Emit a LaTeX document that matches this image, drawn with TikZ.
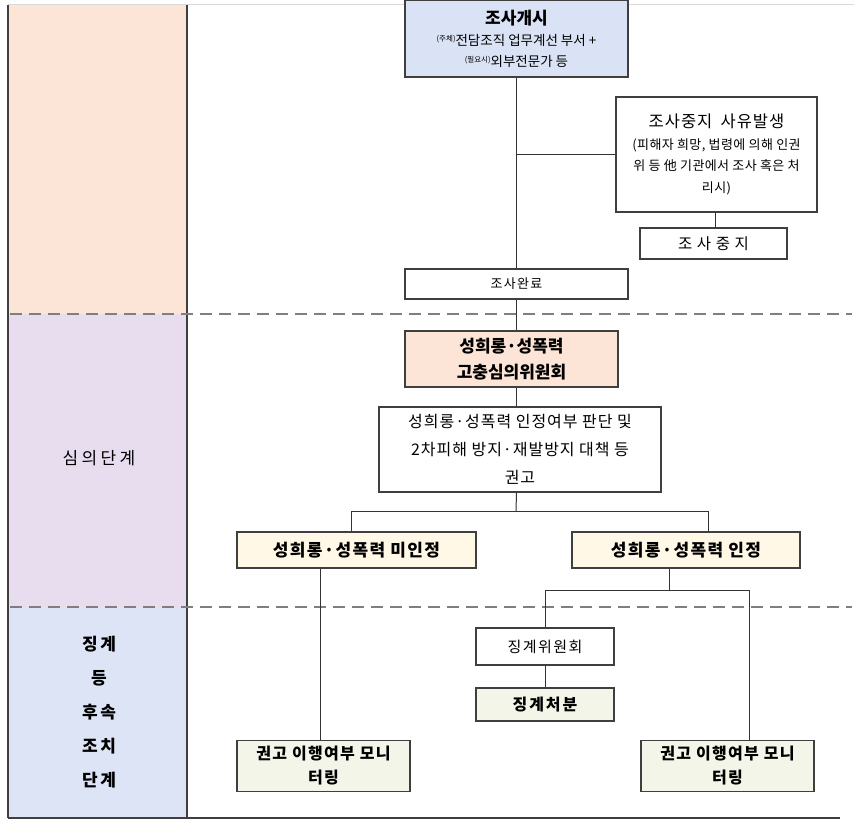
\documentclass[tikz,border=0pt]{standalone}
\usepackage{fontspec}
\setmainfont{Noto Sans CJK KR}
\usetikzlibrary{calc}
\newcommand\lsp[1]{\addfontfeature{LetterSpace=#1}}
\definecolor{peach}{HTML}{FCE5D6}
\definecolor{lav}{HTML}{E8DCEF}
\definecolor{pblue}{HTML}{DCE4F5}
\definecolor{openfill}{HTML}{DAE3F5}
\definecolor{comfill}{HTML}{FCE4D6}
\definecolor{cream}{HTML}{FFF8E7}
\definecolor{pgreen}{HTML}{F2F5E8}
\definecolor{boxline}{HTML}{3F3F3F}
\definecolor{dashgray}{HTML}{7F7F7F}
\definecolor{connline}{HTML}{333333}
\tikzset{
  box/.style={draw=boxline, line width=1.2pt, inner sep=0pt, align=center, text=black},
  conn/.style={draw=connline, line width=1pt},
  sepline/.style={draw=dashgray, line width=2pt, dash pattern=on 12pt off 7pt},
  lbl/.style={inner sep=0pt, align=center, text=black},
}
\begin{document}
\begin{tikzpicture}[x=1pt,y=-1pt]
\useasboundingbox (0,0) rectangle (854,821);
% phase column
\fill[peach] (8,5) rectangle (187,314);
\fill[lav] (8,314) rectangle (187,607);
\fill[pblue] (8,607) rectangle (187,818);
\draw[draw=black!15, line width=1pt] (8,5) -- (854,5);
\draw[boxline, line width=1.5pt] (8,5) -- (8,818);
\draw[boxline, line width=1.5pt] (187,5) -- (187,818);
\draw[boxline, line width=1.5pt] (8,818) -- (840,818);
\draw[sepline] (10,314) -- (852,314);
\draw[sepline] (10,607) -- (852,607);
\node[lbl, font=\fontsize{17}{17}\selectfont\lsp{20}] (ph2) at (99,458) {심의단계};
\node[lbl, font=\bfseries\fontsize{17}{34}\selectfont\lsp{15}] (ph3) at (99,712.5) {징계\\등\\후속\\조치\\단계};

% boxes
\node[box, fill=openfill, minimum width=223, minimum height=77, font=\fontsize{13.5}{21}\selectfont] (open) at (516.5,38.5)
  {{\bfseries\fontsize{17}{17}\selectfont 조사개시}\\\raisebox{4pt}{\fontsize{7.5}{7.5}\selectfont(주체)}전담조직 업무계선 부서 +\\\raisebox{4pt}{\fontsize{7.5}{7.5}\selectfont(필요시)}외부전문가 등};
\node[box, minimum width=201, minimum height=115, font=\fontsize{13}{21.5}\selectfont\lsp{3}] (reason) at (716.5,154.5)
  {{\fontsize{16.5}{17}\selectfont\lsp{6}조사중지\enspace 사유발생}\\(피해자 희망, 법령에 의해 인권\\위 등 他 기관에서 조사 혹은 처\\리시)};
\node[box, minimum width=147, minimum height=31, font=\fontsize{15.5}{16}\selectfont\lsp{30}] (stop) at (713.5,243.5) {조사중지};
\node[box, minimum width=223, minimum height=30, font=\fontsize{13}{13}\selectfont\lsp{10}] (done) at (516.5,284) {조사완료};
\node[box, fill=comfill, minimum width=213, minimum height=56, font=\bfseries\fontsize{17}{26}\selectfont] (com) at (511.5,359) {성희롱·성폭력\\고충심의위원회};
\node[box, minimum width=282, minimum height=85, font=\fontsize{16}{28}\selectfont\lsp{6}] (judge) at (520,449.5) {성희롱·성폭력 인정여부 판단 및\\2차피해 방지·재발방지 대책 등\\권고};
\node[box, fill=cream, minimum width=239, minimum height=36, font=\bfseries\fontsize{17}{17}\selectfont\lsp{8}] (deny) at (356.5,550) {성희롱·성폭력 미인정};
\node[box, fill=cream, minimum width=228, minimum height=36, font=\bfseries\fontsize{17}{17}\selectfont\lsp{8}] (accept) at (686,550) {성희롱·성폭력 인정};
\node[box, minimum width=138, minimum height=37, font=\fontsize{15}{15}\selectfont\lsp{10}] (discom) at (545,646.5) {징계위원회};
\node[box, fill=pgreen, minimum width=138, minimum height=33, font=\bfseries\fontsize{16}{16}\selectfont\lsp{12}] (discip) at (545,704.5) {징계처분};
\node[box, fill=pgreen, minimum width=173, minimum height=51, font=\bfseries\fontsize{16}{24}\selectfont\lsp{8}] (monL) at (323.5,766) {권고 이행여부 모니\\터링};
\node[box, fill=pgreen, minimum width=173, minimum height=51, font=\bfseries\fontsize{16}{24}\selectfont\lsp{8}] (monR) at (727.5,766) {권고 이행여부 모니\\터링};

% connectors
\coordinate (j1) at (open.south |- reason.west);
\draw[conn] (open.south) -- (done.north);
\draw[conn] (j1) -- (reason.west);
\coordinate (r1) at (715,212);
\draw[conn] (r1 |- reason.south) -- (r1 |- stop.north);
\draw[conn] (done.south) -- (done.south |- com.north);
\draw[conn] (done.south |- com.south) -- (done.south |- judge.north);
\coordinate (b1) at (516,511);
\coordinate (bL) at (351,511);
\coordinate (bR) at (708,511);
\draw[conn] (done.south |- judge.south) -- (b1);
\draw[conn] (bL |- deny.north) -- (bL) -- (bR) -- (bR |- accept.north);
\coordinate (dL) at (320,568);
\draw[conn] (dL |- deny.south) -- (dL |- monL.north);
\coordinate (a1) at (669,590);
\coordinate (a2) at (545,590);
\coordinate (a3) at (749,590);
\draw[conn] (a1 |- accept.south) -- (a1);
\draw[conn] (discom.north) -- (a2) -- (a3) -- (a3 |- monR.north);
\draw[conn] (discom.south) -- (discip.north);
\end{tikzpicture}
\end{document}
